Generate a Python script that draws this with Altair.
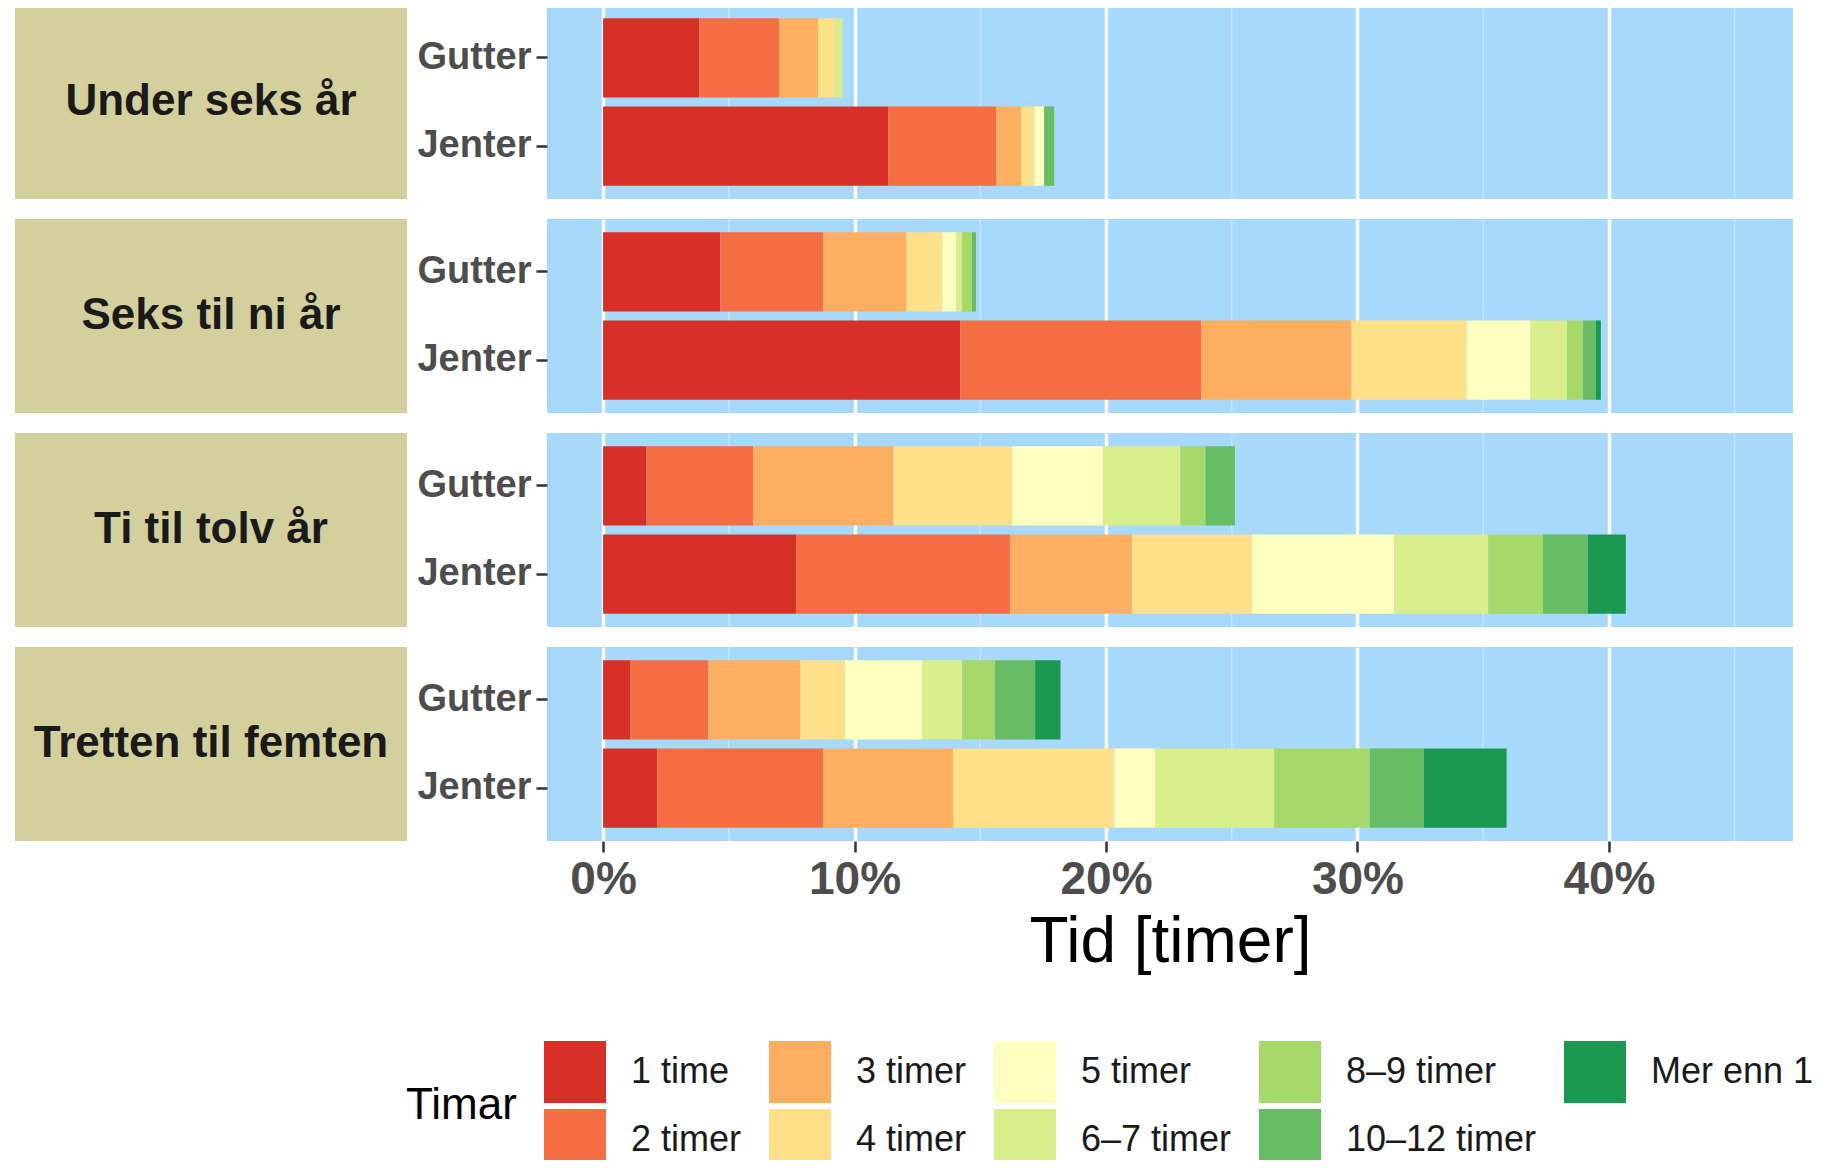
import altair as alt
import pandas as pd

# ---------------- data ----------------
groups = ["Under seks år", "Seks til ni år", "Ti til tolv år", "Tretten til femten"]
genders = ["Gutter", "Jenter"]
levels = ["1 time", "2 timer", "3 timer", "4 timer", "5 timer",
          "6–7 timer", "8–9 timer", "10–12 timer", "Mer enn 12 timer"]
colors = ["#d73027", "#f46d43", "#fdae61", "#fee08b", "#ffffbf",
          "#d9ef8b", "#a6d96a", "#66bd63", "#1a9850"]

# shares in percent, one value per level (1 time ... Mer enn 12 timer)
under_seks_gutter = [3.82, 3.18, 1.55, 0.70, 0.00, 0.27, 0.00, 0.00, 0.00]
under_seks_jenter = [11.35, 4.28, 0.99, 0.53, 0.39, 0.00, 0.00, 0.40, 0.00]
seks_ni_gutter = [4.66, 4.10, 3.29, 1.44, 0.55, 0.23, 0.40, 0.16, 0.00]
seks_ni_jenter = [14.20, 9.59, 5.97, 4.58, 2.54, 1.45, 0.64, 0.51, 0.20]
ti_tolv_gutter = [1.73, 4.24, 5.58, 4.71, 3.63, 3.07, 1.00, 1.17, 0.00]
ti_tolv_jenter = [7.67, 8.51, 4.85, 4.77, 5.66, 3.74, 2.18, 1.78, 1.51]
tretten_gutter = [1.09, 3.09, 3.66, 1.78, 3.07, 1.59, 1.31, 1.59, 1.01]
tretten_jenter = [2.15, 6.61, 5.16, 6.41, 1.62, 4.74, 3.80, 2.15, 3.29]

series = {
    ("Under seks år", "Gutter"): under_seks_gutter,
    ("Under seks år", "Jenter"): under_seks_jenter,
    ("Seks til ni år", "Gutter"): seks_ni_gutter,
    ("Seks til ni år", "Jenter"): seks_ni_jenter,
    ("Ti til tolv år", "Gutter"): ti_tolv_gutter,
    ("Ti til tolv år", "Jenter"): ti_tolv_jenter,
    ("Tretten til femten", "Gutter"): tretten_gutter,
    ("Tretten til femten", "Jenter"): tretten_jenter,
}

x_ticks = [0.0, 0.1, 0.2, 0.3, 0.4]
x_minor = [0.05, 0.15, 0.25, 0.35, 0.45]

records = []
for (g, s), vals in series.items():
    for k, (lev, v) in enumerate(zip(levels, vals)):
        records.append({"group": g, "gender": s, "level": lev,
                        "ord": k, "share": v / 100.0})
df = pd.DataFrame(records)
minor_df = pd.DataFrame({"v": x_minor})

# legend is filled row by row, so reorder so columns read 1,2 / 3,4 / ...
leg_idx = [0, 2, 4, 6, 8, 1, 3, 5, 7]
leg_domain = [levels[i] for i in leg_idx]
leg_range = [colors[i] for i in leg_idx]

FONT = "Liberation Sans"
PANEL_W, PANEL_H = 1246, 194
STRIP_W = 392
x_scale = alt.Scale(domain=[-0.0223, 0.4732], nice=False, zero=False)

legend = alt.Legend(
    title="Timar", orient="none", legendX=391, legendY=1036,
    columns=5, direction="horizontal",
    symbolType="square", symbolSize=3844, symbolStrokeWidth=0, symbolOpacity=1,
    labelFontSize=36, labelFont=FONT, labelColor="#1a1a1a", labelOffset=25,
    labelLimit=500,
    columnPadding=27, rowPadding=6,
    titleFontSize=44, titleFontWeight="normal", titleFont=FONT, titleColor="#000000",
    titleOrient="left", titleAnchor="middle", titleBaseline="middle", titlePadding=27,
    padding=0,
)

rows = []
for i, g in enumerate(groups):
    sub = df[df["group"] == g]
    bottom = i == len(groups) - 1
    common = dict(values=x_ticks, grid=True, gridColor="white", gridWidth=3.5,
                  domain=False)
    if bottom:
        xaxis = alt.Axis(format=".0%", title="Tid [timer]",
                         labelFontSize=46, labelFontWeight="bold", labelColor="#4d4d4d",
                         labelFont=FONT, labelPadding=5,
                         tickSize=11, tickColor="#333333", tickWidth=2.5,
                         titleFontSize=64, titleFontWeight="normal", titleColor="#000000",
                         titleFont=FONT, titlePadding=8, **common)
    else:
        xaxis = alt.Axis(labels=False, ticks=False, title=None, **common)

    yaxis = alt.Axis(title=None, domain=False, grid=False,
                     labelFontSize=38, labelFontWeight="bold", labelColor="#4d4d4d",
                     labelFont=FONT, labelPadding=5,
                     tickSize=11, tickColor="#333333", tickWidth=2.5,
                     minExtent=130, maxExtent=130)

    minor = alt.Chart(minor_df).mark_rule(color="white", strokeWidth=1.5, opacity=0.35).encode(
        x=alt.X("v:Q", scale=x_scale, axis=xaxis)
    )
    bars = alt.Chart(sub).mark_bar().encode(
        x=alt.X("share:Q", stack="zero", scale=x_scale, axis=xaxis),
        y=alt.Y("gender:N", sort=genders,
                scale=alt.Scale(domain=genders, paddingInner=0.1, paddingOuter=0.15),
                axis=yaxis),
        color=alt.Color("level:N", scale=alt.Scale(domain=leg_domain, range=leg_range),
                        legend=legend),
        order=alt.Order("ord:Q", sort="ascending"),
    )
    panel = alt.layer(minor, bars).properties(
        width=PANEL_W, height=PANEL_H,
        view=alt.ViewBackground(fill="#a7d9fd", stroke=None),
    )

    strip = alt.Chart(pd.DataFrame({"label": [g]})).mark_text(
        fontSize=44, fontWeight="bold", font=FONT, color="#1a1a1a",
        align="center", baseline="middle",
    ).encode(
        text="label:N", x=alt.value(STRIP_W / 2), y=alt.value(PANEL_H / 2)
    ).properties(
        width=STRIP_W, height=PANEL_H,
        view=alt.ViewBackground(fill="#d4d09d", stroke=None),
    )
    rows.append(alt.hconcat(strip, panel, spacing=9))

# negative right/bottom padding crops the legend at the window edge, as in the original
chart = alt.vconcat(*rows, spacing=18).properties(
    padding={"left": 7, "top": -4, "right": -110, "bottom": -11}
).configure_view(stroke=None).configure(font=FONT)

chart.save("out.html", embed_options={"renderer": "svg", "actions": False})
